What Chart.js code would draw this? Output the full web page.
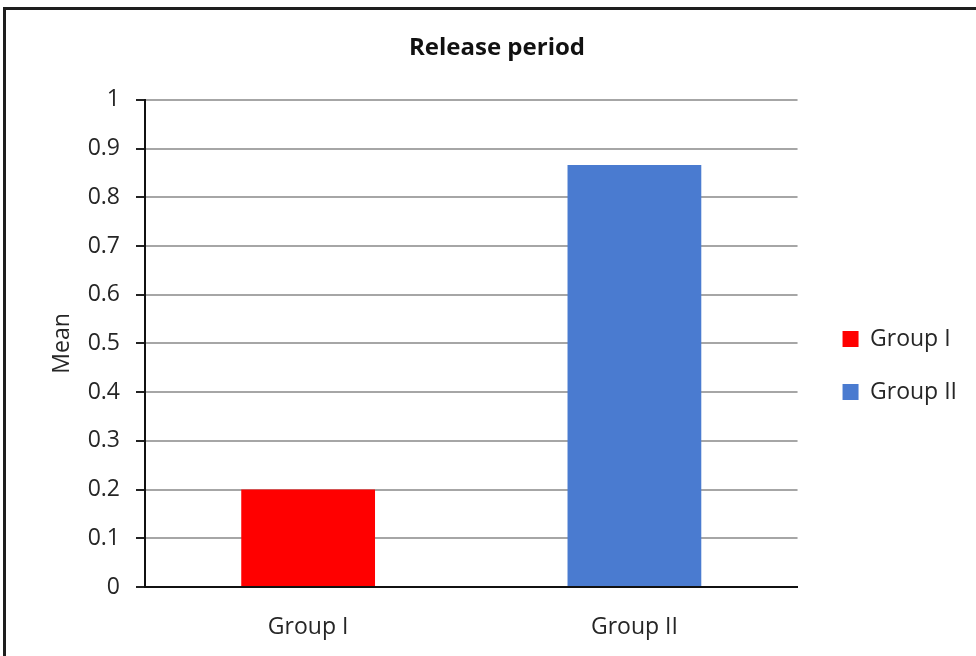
<!DOCTYPE html>
<html lang="en">
<head>
  <meta charset="UTF-8">
  <title>Release period</title>
  <script src="https://cdn.jsdelivr.net/npm/chart.js"></script>
  <style>
    html, body { margin: 0; padding: 0; background: #fff; overflow: hidden; }
    #wrap { position: relative; width: 976px; height: 656px; }
    #frame { position: absolute; left: 3px; top: 7px; width: 990px; height: 700px;
             border: 3px solid #1e1e1e; box-sizing: border-box; }
    canvas { position: absolute; left: 0; top: 0; }
  </style>
</head>
<body>
<div id="wrap">
  <div id="frame"></div>
  <canvas id="releaseChart" width="976" height="656"></canvas>
</div>

<script>
const groups = ['Group I', 'Group II'];
const means = [0.2, 0.866];
const barColors = ['#ff0000', '#4a7bd0'];
const chartTitle = 'Release period';
const yTitle = 'Mean';

const font = "'Open Sans', 'DejaVu Sans', sans-serif";
const textColor = '#262626';

new Chart(document.getElementById('releaseChart'), {
  type: 'bar',
  data: {
    labels: groups,
    datasets: [{
      label: yTitle,
      data: means,
      backgroundColor: barColors,
      categoryPercentage: 1,
      barPercentage: 0.41
    }]
  },
  options: {
    responsive: false,
    animation: false,
    layout: { padding: { left: 27, right: 9, top: 20, bottom: 0 } },
    plugins: {
      title: {
        display: true,
        text: chartTitle,
        color: '#111',
        font: { family: font, size: 24, weight: 'bold' },
        padding: { top: 14, bottom: 37 }
      },
      legend: {
        position: 'right',
        // empty title only pushes the two entries down a bit
        title: { display: true, text: '', font: { size: 10 }, padding: { top: 0, bottom: 43 } },
        labels: {
          color: textColor,
          font: { family: font, size: 23 },
          boxWidth: 16,
          boxHeight: 16,
          padding: 30,
          generateLabels: chart => groups.map((g, i) => ({
            text: g,
            fillStyle: barColors[i],
            strokeStyle: barColors[i],
            fontColor: textColor,
            lineWidth: 0,
            index: i
          }))
        }
      },
      tooltip: { enabled: false }
    },
    scales: {
      x: {
        grid: { display: false, drawTicks: false },
        border: { color: '#111', width: 2 },
        ticks: { color: textColor, font: { family: font, size: 23 }, padding: 27 },
        afterFit: s => { s.height = 69; }
      },
      y: {
        min: 0,
        max: 1,
        ticks: {
          stepSize: 0.1,
          color: textColor,
          font: { family: font, size: 23 },
          padding: 16,
          callback: v => +v.toFixed(1)
        },
        grid: { color: '#a6a6a6', lineWidth: 2, tickColor: '#222', tickLength: 9 },
        border: { color: '#111', width: 2 },
        title: { display: true, text: yTitle, color: textColor, font: { family: font, size: 23 }, padding: { top: 22, bottom: 4 } },
        afterFit: s => { s.width = 118; }
      },
      // blank scale, only keeps the legend away from the plot
      gap: {
        position: 'right',
        display: true,
        grid: { display: false, drawTicks: false },
        border: { display: false },
        ticks: { display: false },
        afterFit: s => { s.width = 15; }
      }
    }
  }
});
</script>
</body>
</html>
